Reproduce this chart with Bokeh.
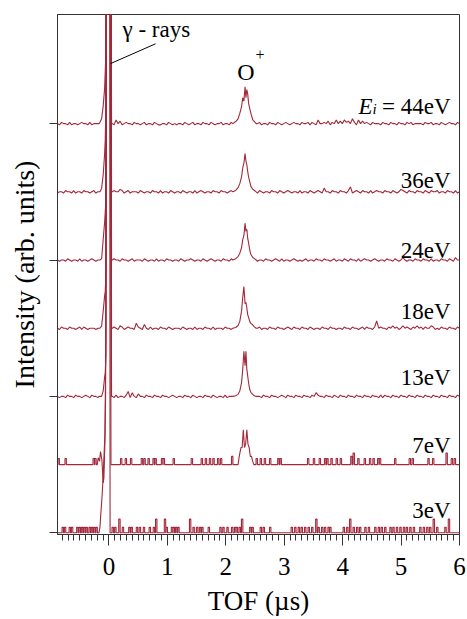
import numpy as np
from bokeh.plotting import figure
from bokeh.models import Range1d, FixedTicker, ColumnDataSource
from bokeh.core.properties import value
from bokeh.embed import file_html
from bokeh.resources import INLINE

# ---------------- data ----------------
x_start, x_end = -0.88, 6.0
x_ticks = [0, 1, 2, 3, 4, 5, 6]
y_ticks = [0, 2, 4, 6]

energy_labels = ["3eV", "7eV", "13eV", "18eV", "24eV", "36eV", "44eV"]  # bottom -> top
trace_offsets = [0, 1, 2, 3, 4, 5, 6]

NOISE_UNIT = 0.018   # one noise level
NOISE_ZERO = 2       # level of the baseline

# baseline noise (one hex level per sample, evenly spread over the TOF axis)
noise_44 = ("21322131221232213122" "22313273152412322132" "21231221321122132121"
            "22132123122132213212" "23122132212321231222" "31221322132123212322"
            "13223132152232413252" "42534263152423213222" "13221322132213231222"
            "21322312213212322132")
noise_36 = ("12213221312213221231" "22132221322431231222" "13212213221312213212"
            "21321221312321221322" "13221232131221321221" "32122132213212321221"
            "31221321232152213221" "32213612321322131232" "21322132124321322132"
            "21321322312213221312")
noise_24 = ("21221321221312212321" "21321221322132212312" "22132122131221322122"
            "13212232122132123212" "21322132212213221321" "22132212321312212321"
            "21231221322132212312" "21321322131232212321" "22132213212421221322"
            "13221312213221321422")
noise_18 = ("21322132212313212221" "22132212321431232216" "32152131221322132122"
            "21321221312213221312" "22132212321322132212" "31221322132212321322"
            "13221321221322132212" "21322132212313221382" "32213242312423213242"
            "31322431213221322132")
noise_13 = ("21221322132212321322" "13221322131221361521" "42213221322132212321"
            "22132213212213221321" "22131221322132212312" "21322132212321322132"
            "21322132532213221321" "32213221322132213221" "31322132213221322132"
            "21322132213221322132")

# gamma-ray peak (relative to each baseline), goes off the top of the frame
gamma_x = [-0.17, -0.154, -0.125, -0.098, -0.074, -0.063, -0.051, -0.04, 0.028, 0.045, 0.06]
gamma_44 = [0.0, 0.02, 0.07, 0.26, 0.51, 0.76, 1.05, 9.0, 9.0, 0.0, 0.0]
gamma_36 = [0.0, 0.0, 0.05, 0.25, 0.55, 0.76, 1.3, 9.0, 9.0, 0.0, 0.0]
gamma_24 = [0.0, 0.0, 0.02, 0.3, 0.55, 0.7, 0.89, 9.0, 9.0, 0.0, 0.0]
gamma_18 = [0.0, 0.0, 0.03, 0.25, 0.47, 0.54, 0.8, 9.0, 9.0, 0.0, 0.0]
gamma_13 = [0.0, 0.0, 0.0, 0.08, 0.28, 0.35, 0.6, 9.0, 9.0, 0.0, 0.0]
gamma_7_x = [-0.2, -0.183, -0.16, -0.144, -0.12, -0.098, -0.086, -0.068, -0.057, -0.045, 0.02, 0.035, 0.05]
gamma_7 = [0.0, 0.1, 0.05, 0.19, 0.07, -0.27, -0.2, 0.34, 1.0, 9.0, 9.0, 0.0, 0.0]
gamma_3_x = [-0.17, -0.154, -0.137, -0.12, -0.098, -0.068, -0.05, -0.04, 0.012, 0.02, 0.04]
gamma_3 = [0.0, 0.08, 0.3, 0.5, 0.83, 1.46, 3.0, 9.0, 9.0, 0.0, 0.0]

# O+ peak
oplus_x = [2.12, 2.17, 2.21, 2.24, 2.27, 2.29, 2.31, 2.33, 2.345, 2.36, 2.375, 2.39, 2.41, 2.43, 2.46, 2.49, 2.52]
oplus_44 = [0.0, 0.03, 0.07, 0.15, 0.25, 0.38, 0.33, 0.54, 0.38, 0.50, 0.44, 0.3, 0.22, 0.15, 0.06, 0.03, 0.0]
oplus_36 = [0.0, 0.02, 0.06, 0.12, 0.22, 0.35, 0.42, 0.56, 0.45, 0.40, 0.30, 0.22, 0.15, 0.08, 0.04, 0.02, 0.0]
oplus_24 = [0.0, 0.02, 0.05, 0.1, 0.18, 0.3, 0.36, 0.54, 0.42, 0.45, 0.32, 0.25, 0.15, 0.08, 0.04, 0.02, 0.0]
oplus_18 = [0.0, 0.01, 0.04, 0.1, 0.25, 0.45, 0.61, 0.36, 0.38, 0.3, 0.2, 0.16, 0.1, 0.07, 0.05, 0.02, 0.0]
oplus_13 = [0.0, 0.01, 0.03, 0.08, 0.2, 0.4, 0.66, 0.45, 0.66, 0.4, 0.3, 0.2, 0.1, 0.06, 0.03, 0.01, 0.0]
oplus_7_x = [2.21, 2.23, 2.26, 2.28, 2.30, 2.32, 2.34, 2.36, 2.38, 2.40, 2.42, 2.44, 2.46, 2.48]
oplus_7 = [0.0, 0.12, 0.25, 0.25, 0.51, 0.25, 0.3, 0.51, 0.3, 0.25, 0.12, 0.12, 0.05, 0.0]

# single-count spikes of the 7 eV and 3 eV spectra
spikes_7_x = [-0.86, -0.74, -0.26, -0.23, 0.21, 0.29, 0.38, 0.565, 0.61, 0.68, 0.765, 0.80, 0.91, 0.94,
              1.11, 1.42, 1.59, 1.66, 1.73, 1.79, 1.87, 1.92, 2.11, 2.53, 2.60, 2.67, 2.76, 2.90, 2.94,
              3.41, 3.51, 3.61, 3.70, 3.74, 3.81, 3.90, 3.97, 4.15, 4.19, 4.27, 4.38, 4.47, 4.53, 4.61,
              4.64, 4.90, 5.15, 5.20, 5.47, 5.55, 5.78, 5.87, 5.92]
spikes_7_h = [0.09, 0.09, 0.09, 0.09, 0.09, 0.09, 0.09, 0.09, 0.09, 0.09, 0.09, 0.09, 0.09, 0.09,
              0.09, 0.09, 0.09, 0.09, 0.09, 0.09, 0.09, 0.09, 0.12, 0.09, 0.09, 0.09, 0.09, 0.09, 0.09,
              0.09, 0.09, 0.09, 0.09, 0.09, 0.09, 0.09, 0.09, 0.12, 0.17, 0.09, 0.09, 0.09, 0.09, 0.09,
              0.09, 0.09, 0.09, 0.09, 0.09, 0.09, 0.17, 0.09, 0.09]
spikes_3_x = [-0.79, -0.75, -0.67, -0.63, -0.54, -0.50, -0.46, -0.42, -0.38, -0.33, -0.29, -0.25, -0.21,
              0.065, 0.11, 0.18, 0.24, 0.35, 0.39, 0.48, 0.53, 0.60, 0.70, 0.77, 0.81, 0.96, 0.99, 1.08,
              1.11, 1.15, 1.19, 1.39, 1.45, 1.51, 1.56, 1.60, 1.71, 1.91, 1.96, 2.03, 2.11, 2.16, 2.19,
              2.24, 2.28, 2.42, 2.46, 2.60, 2.65, 2.76, 3.13, 3.19, 3.25, 3.30, 3.36, 3.42, 3.48, 3.55,
              3.59, 3.65, 3.70, 3.76, 3.79, 4.02, 4.08, 4.13, 4.19, 4.25, 4.30, 4.39, 4.45, 4.56, 4.62,
              4.67, 4.73, 4.82, 4.87, 4.93, 4.99, 5.05, 5.10, 5.16, 5.22, 5.33, 5.39, 5.45, 5.50, 5.56,
              5.62, 5.76, 5.82]
spikes_3_tall = [0.18, 0.81, 0.96, 1.39, 2.28, 3.55, 4.13, 5.56, 5.82]
spike_small, spike_big = 0.08, 0.2

# ---------------- build the traces ----------------
SPIKE_HALF = 0.012


def build(offset, noise=None, spikes_x=None, spikes_h=None, gx=None, gy=None, ox=None, oy=None):
    if noise is not None:
        xs = np.linspace(x_start, x_end, len(noise))
        pts = [(x, (int(c, 16) - NOISE_ZERO) * NOISE_UNIT) for x, c in zip(xs, noise)]
    else:
        pts = [(x_start, 0.0), (x_end, 0.0)]
        for sx, sh in zip(spikes_x, spikes_h):
            pts += [(sx - SPIKE_HALF, 0.0), (sx - SPIKE_HALF, sh), (sx + SPIKE_HALF, sh), (sx + SPIKE_HALF, 0.0)]
    windows = []
    if gx is not None:
        windows.append((gx[0], gx[-1]))
    if ox is not None:
        windows.append((ox[0], ox[-1]))
    pts = [pt for pt in pts if not any(a <= pt[0] <= b for a, b in windows)]
    if gx is not None:
        pts += list(zip(gx, gy))
    if ox is not None:
        pts += list(zip(ox, oy))
    pts.sort(key=lambda t: t[0])
    return [t[0] for t in pts], [t[1] + offset for t in pts]


spikes_3_h = [spike_big if s in spikes_3_tall else spike_small for s in spikes_3_x]

traces = [
    build(trace_offsets[0], spikes_x=spikes_3_x, spikes_h=spikes_3_h, gx=gamma_3_x, gy=gamma_3),
    build(trace_offsets[1], spikes_x=spikes_7_x, spikes_h=spikes_7_h, gx=gamma_7_x, gy=gamma_7,
          ox=oplus_7_x, oy=oplus_7),
    build(trace_offsets[2], noise=noise_13, gx=gamma_x, gy=gamma_13, ox=oplus_x, oy=oplus_13),
    build(trace_offsets[3], noise=noise_18, gx=gamma_x, gy=gamma_18, ox=oplus_x, oy=oplus_18),
    build(trace_offsets[4], noise=noise_24, gx=gamma_x, gy=gamma_24, ox=oplus_x, oy=oplus_24),
    build(trace_offsets[5], noise=noise_36, gx=gamma_x, gy=gamma_36, ox=oplus_x, oy=oplus_36),
    build(trace_offsets[6], noise=noise_44, gx=gamma_x, gy=gamma_44, ox=oplus_x, oy=oplus_44),
]

# ---------------- figure ----------------
FONT = "Liberation Serif"
RED = "#A3283A"
AX = "#333333"

p = figure(width=467, height=619, x_range=Range1d(x_start, x_end), y_range=Range1d(-0.025, 7.6),
           output_backend="svg", toolbar_location=None,
           min_border_left=57, min_border_right=8, min_border_top=14, min_border_bottom=85)
p.xgrid.visible = False
p.ygrid.visible = False
p.outline_line_color = AX
p.outline_line_width = 1
p.background_fill_color = "white"
p.border_fill_color = "white"

for xs, ys in traces:
    p.line(xs, ys, line_color=RED, line_width=1.1)

# x axis
minor = [round(v / 10, 1) for v in range(-8, 60) if v % 10 != 0]
p.xaxis.ticker = FixedTicker(ticks=x_ticks, minor_ticks=minor)
p.xaxis.axis_label = "TOF (µs)"
p.xaxis.axis_label_text_font = FONT
p.xaxis.axis_label_text_font_size = "27px"
p.xaxis.axis_label_text_font_style = "normal"
p.xaxis.axis_label_text_color = "black"
p.xaxis.axis_label_standoff = 8
p.xaxis.major_label_text_font = FONT
p.xaxis.major_label_text_font_size = "25px"
p.xaxis.major_label_text_color = "black"
p.xaxis.major_label_standoff = 12
p.xaxis.major_tick_out = 11
p.xaxis.major_tick_in = 0
p.xaxis.minor_tick_out = 6
p.xaxis.minor_tick_in = 0
p.xaxis.axis_line_color = AX
p.xaxis.major_tick_line_color = AX
p.xaxis.minor_tick_line_color = AX

# y axis: unlabeled ticks (drawn as minor ticks, so no tick labels exist)
p.yaxis.ticker = FixedTicker(ticks=[], minor_ticks=y_ticks)
p.yaxis.axis_label = "Intensity (arb. units)"
p.yaxis.axis_label_text_font = FONT
p.yaxis.axis_label_text_font_size = "28px"
p.yaxis.axis_label_text_font_style = "normal"
p.yaxis.axis_label_text_color = "black"
p.yaxis.axis_label_standoff = 10
p.yaxis.major_tick_out = 8
p.yaxis.major_tick_in = 0
p.yaxis.minor_tick_out = 8
p.yaxis.minor_tick_in = 0
p.yaxis.axis_line_color = AX
p.yaxis.minor_tick_line_color = AX

# energy labels on the right of each trace
label_x = 5.846
label_dy = [0.33, 0.287, 0.273, 0.241, 0.146, 0.172, 0.247]
lab_src = ColumnDataSource(dict(
    x=[label_x] * len(energy_labels),
    y=[o + d for o, d in zip(trace_offsets, label_dy)],
    text=[e if e != "44eV" else "= 44eV" for e in energy_labels],
))
p.text(x="x", y="y", text="text", source=lab_src, text_align="right", text_baseline="alphabetic",
       text_font=value(FONT), text_font_size="23px", text_color="black")
top_y = trace_offsets[-1] + label_dy[-1]
p.text(x=[label_x], y=[top_y], text=["E"], text_align="left", text_baseline="alphabetic",
       x_offset=-92, text_font=value(FONT), text_font_size="23px", text_font_style="italic",
       text_color="black")
p.text(x=[label_x], y=[top_y - 0.03], text=["i"], text_align="left", text_baseline="alphabetic",
       x_offset=-78, text_font=value(FONT), text_font_size="15px", text_font_style="italic",
       text_color="black")

# peak annotations
p.text(x=[2.345], y=[6.75], text=["O"], text_align="center", text_baseline="alphabetic",
       text_font=value(FONT), text_font_size="24px", text_color="black")
p.text(x=[2.586], y=[7.02], text=["+"], text_align="center", text_baseline="middle",
       text_font=value(FONT), text_font_size="16px", text_color="black")
p.text(x=[0.233], y=[7.38], text=["γ - rays"], text_align="left", text_baseline="alphabetic",
       text_font=value(FONT), text_font_size="23px", text_color="black")
p.segment(x0=[0.797], y0=[7.17], x1=[0.027], y1=[6.88], line_color="black", line_width=1)

open("out.html", "w").write(file_html(p, INLINE))
